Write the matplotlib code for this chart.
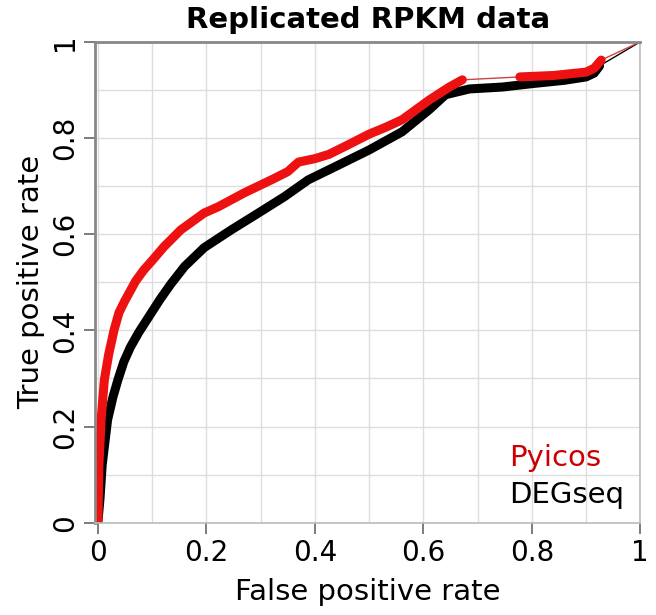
import matplotlib
matplotlib.use("Agg")
import matplotlib.pyplot as plt
import numpy as np

# Pyicos ROC (dense part, sparse tail drawn thin)
pyicos_fpr = [0, 0.002, 0.006, 0.012, 0.02, 0.03, 0.039, 0.05, 0.07, 0.085, 0.1, 0.122,
              0.153, 0.196, 0.222, 0.27, 0.32, 0.35, 0.37, 0.4, 0.426, 0.46, 0.5, 0.53,
              0.561, 0.611, 0.648, 0.672]
pyicos_tpr = [0, 0.12, 0.214, 0.297, 0.35, 0.401, 0.437, 0.462, 0.503, 0.526, 0.545, 0.574,
              0.609, 0.644, 0.657, 0.686, 0.713, 0.73, 0.75, 0.757, 0.766, 0.785, 0.808, 0.822,
              0.838, 0.879, 0.906, 0.921]
pyicos_fpr2 = [0.778, 0.84, 0.9, 0.915, 0.928]
pyicos_tpr2 = [0.927, 0.93, 0.937, 0.945, 0.962]
pyicos_end = [1.0, 1.0]

# DEGseq ROC
degseq_fpr = [0, 0.004, 0.008, 0.018, 0.028, 0.037, 0.048, 0.06, 0.075, 0.095, 0.115, 0.135,
              0.16, 0.196, 0.246, 0.296, 0.344, 0.388, 0.437, 0.5, 0.561, 0.611, 0.641, 0.685,
              0.746, 0.8, 0.86, 0.9, 0.915, 0.925]
degseq_tpr = [0, 0.05, 0.12, 0.214, 0.262, 0.297, 0.335, 0.365, 0.395, 0.43, 0.465, 0.497,
              0.533, 0.572, 0.609, 0.644, 0.678, 0.713, 0.74, 0.775, 0.813, 0.859, 0.89, 0.902,
              0.906, 0.913, 0.92, 0.927, 0.935, 0.95]

red = "#ee1111"

fig = plt.figure(figsize=(6.56, 6.15), dpi=100)
ax = fig.add_axes([0.145, 0.15, 0.831, 0.782])

ax.set_xticks(np.arange(0, 1.01, 0.1), minor=True)
ax.set_yticks(np.arange(0, 1.01, 0.1), minor=True)
ax.grid(True, which="both", color="#dddddd", lw=1)
ax.set_axisbelow(True)

# black curve
ax.plot(degseq_fpr + [1.0], degseq_tpr + [1.0], color="black", lw=1)
ax.plot(degseq_fpr, degseq_tpr, color="black", lw=6.5, solid_capstyle="round",
        solid_joinstyle="round")

# red curve: thin full line + thick dense parts
all_fpr = pyicos_fpr + pyicos_fpr2 + [pyicos_end[0]]
all_tpr = pyicos_tpr + pyicos_tpr2 + [pyicos_end[1]]
ax.plot(all_fpr, all_tpr, color="#cc4444", lw=1)
ax.plot(pyicos_fpr, pyicos_tpr, color=red, lw=6.5, solid_capstyle="round",
        solid_joinstyle="round")
ax.plot(pyicos_fpr2, pyicos_tpr2, color=red, lw=6.5, solid_capstyle="round",
        solid_joinstyle="round")

ax.set_xlim(-0.005, 1.0)
ax.set_ylim(0, 1)
ax.set_xticks([0, 0.2, 0.4, 0.6, 0.8, 1.0])
ax.set_xticklabels(["0", "0.2", "0.4", "0.6", "0.8", "1"])
ax.set_yticks([0, 0.2, 0.4, 0.6, 0.8, 1.0])
ax.set_yticklabels(["0", "0.2", "0.4", "0.6", "0.8", "1"], rotation=90, va="center")
ax.tick_params(axis="both", which="major", labelsize=20, length=8, width=1.2,
               color="#666666", direction="out")
ax.tick_params(axis="both", which="minor", length=0)

for s in ["left", "top"]:
    ax.spines[s].set_color("#888888")
    ax.spines[s].set_linewidth(2)
for s in ["bottom", "right"]:
    ax.spines[s].set_color("#bbbbbb")
    ax.spines[s].set_linewidth(1.2)

ax.set_xlabel("False positive rate", fontsize=21, labelpad=8)
ax.set_ylabel("True positive rate", fontsize=21, labelpad=4)
ax.set_title("Replicated RPKM data", fontsize=21, fontweight="bold", pad=10)

ax.text(0.76, 0.135, "Pyicos", color="#cc0000", fontsize=21, transform=ax.transAxes,
        ha="left", va="center")
ax.text(0.76, 0.058, "DEGseq", color="black", fontsize=21, transform=ax.transAxes,
        ha="left", va="center")

fig.savefig("out.png", dpi=100)
